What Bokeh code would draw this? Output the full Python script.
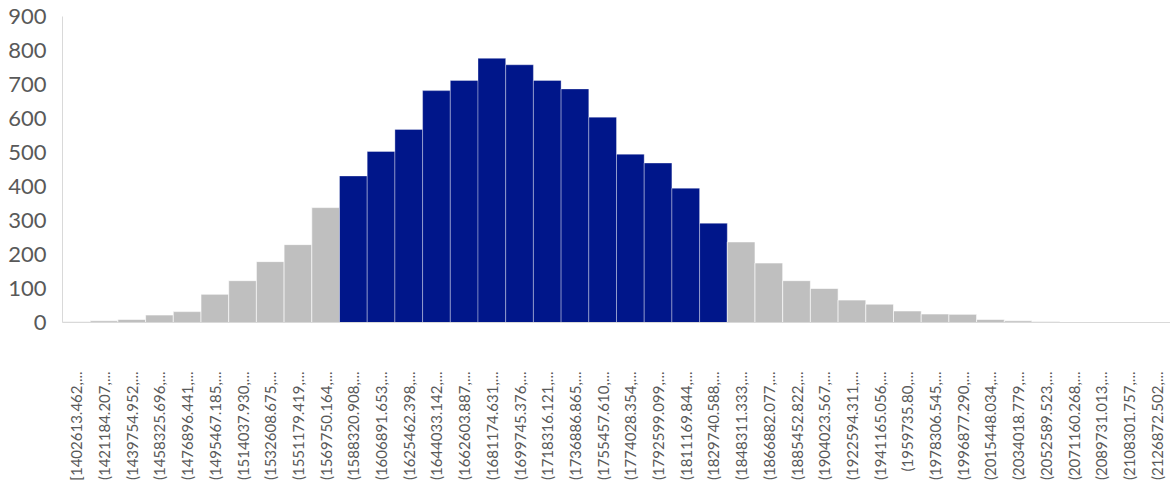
from math import pi
from bokeh.plotting import figure
from bokeh.models import ColumnDataSource, FactorRange, Range1d
from bokeh.embed import file_html
from bokeh.resources import INLINE

bins = [
    "[1402613.462,...", "(1421184.207,...", "(1439754.952,...", "(1458325.696,...",
    "(1476896.441,...", "(1495467.185,...", "(1514037.930,...", "(1532608.675,...",
    "(1551179.419,...", "(1569750.164,...", "(1588320.908,...", "(1606891.653,...",
    "(1625462.398,...", "(1644033.142,...", "(1662603.887,...", "(1681174.631,...",
    "(1699745.376,...", "(1718316.121,...", "(1736886.865,...", "(1755457.610,...",
    "(1774028.354,...", "(1792599.099,...", "(1811169.844,...", "(1829740.588,...",
    "(1848311.333,...", "(1866882.077,...", "(1885452.822,...", "(1904023.567,...",
    "(1922594.311,...", "(1941165.056,...", "(1959735.80,...", "(1978306.545,...",
    "(1996877.290,...", "(2015448.034,...", "(2034018.779,...", "(2052589.523,...",
    "(2071160.268,...", "(2089731.013,...", "(2108301.757,...", "(2126872.502,...",
]
counts = [2, 5, 9, 22, 32, 83, 123, 179, 229, 338,
          431, 503, 568, 682, 712, 777, 758, 712, 687, 604,
          495, 469, 395, 292, 237, 175, 123, 100, 66, 54,
          34, 25, 24, 9, 5, 3, 1, 1, 0, 1]
# bins inside the highlighted interval (11th to 24th bin)
in_interval = [False] * 10 + [True] * 14 + [False] * 16

NAVY = "#00168A"
GRAY = "#BFBFBF"
colors = [NAVY if f else GRAY for f in in_interval]
alphas = [0.35 if f else 0.6 for f in in_interval]

src = ColumnDataSource(dict(x=bins, top=counts, color=colors, la=alphas))

p = figure(
    x_range=FactorRange(*bins), y_range=Range1d(0, 900),
    frame_width=1108, frame_height=306,
    min_border_left=62, min_border_right=0, min_border_top=16, min_border_bottom=0,
    output_backend="svg", toolbar_location=None,
)
p.vbar(x="x", top="top", width=1.0, source=src, fill_color="color",
       line_color="white", line_alpha="la", line_width=1)

p.xgrid.grid_line_color = None
p.ygrid.grid_line_color = None
p.outline_line_color = None

for ax in (p.xaxis[0], p.yaxis[0]):
    ax.axis_line_color = "#D9D9D9"
    ax.axis_line_width = 1
    ax.major_tick_line_color = None
    ax.minor_tick_line_color = None
    ax.major_tick_out = 0
    ax.major_tick_in = 0
    ax.major_label_text_color = "#595959"
    ax.major_label_text_font = "Lato"

p.yaxis.ticker = [0, 100, 200, 300, 400, 500, 600, 700, 800, 900]
p.yaxis.major_label_text_font_size = "22px"
p.yaxis.major_label_standoff = 16

p.xaxis.major_label_orientation = pi / 2
p.xaxis.major_label_text_font_size = "15px"
p.xaxis.major_label_standoff = 49

open("out.html", "w").write(file_html(p, INLINE))
